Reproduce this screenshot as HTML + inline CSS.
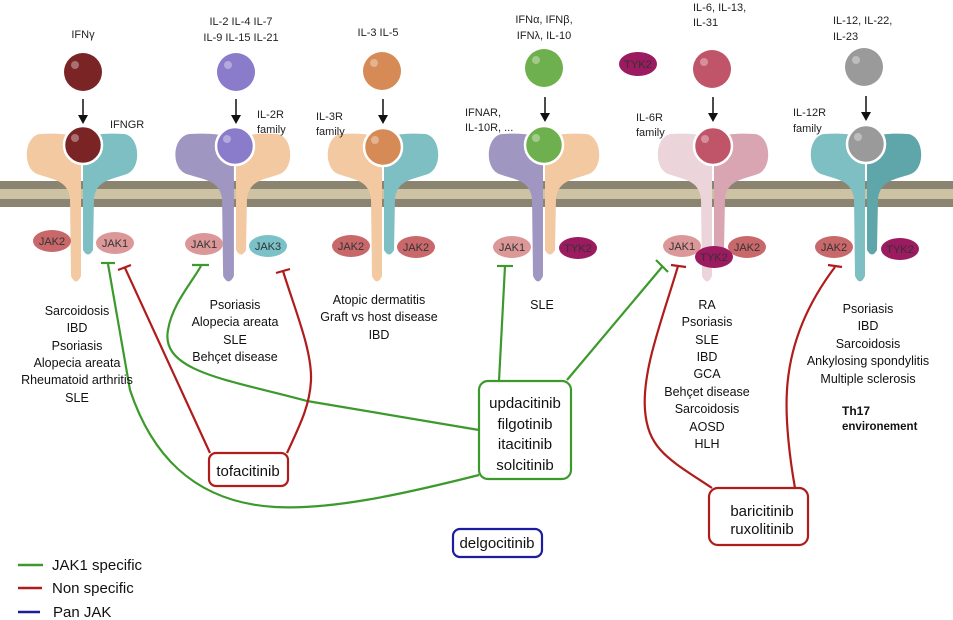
<!DOCTYPE html>
<html><head><meta charset="utf-8"><style>
html,body{margin:0;padding:0;background:#fff;}
svg{display:block;font-family:"Liberation Sans",Arial,sans-serif;}
</style></head><body>
<svg width="953" height="620" viewBox="0 0 953 620" xmlns="http://www.w3.org/2000/svg">
<defs>
<g id="L"><path d="M-1,140 C-8,134 -25,133 -42,134 C-58,136 -60,168 -45,174 C-28,180 -15,180 -12,198 L-11,276 Q-6,287 -1,276 Z"/></g>
<g id="R"><path d="M1,140 C8,134 25,133 42,134 C58,136 60,168 45,174 C28,180 15,180 12,198 L11,250 Q6,259 1,250 Z"/></g>
</defs>
<rect x="0" y="181" width="953" height="26" fill="#8b8470"/>
<rect x="0" y="189" width="953" height="10" fill="#cdc2a3"/>

<g transform="translate(82,0)"><use href="#L" fill="#f2c9a0"/><use href="#R" fill="#7dbfc3"/></g>
<g transform="translate(235,0)"><use href="#L" fill="#a096c2" transform="scale(1.08,1)"/><use href="#R" fill="#f2c9a0"/></g>
<g transform="translate(383,0)"><use href="#L" fill="#f2c9a0"/><use href="#R" fill="#7dbfc3"/></g>
<g transform="translate(544,0)"><use href="#L" fill="#a096c2"/><use href="#R" fill="#f2c9a0"/></g>
<g transform="translate(713,0)"><use href="#L" fill="#ecd4db"/><use href="#R" fill="#d9a5b2"/></g>
<g transform="translate(866,0)"><use href="#L" fill="#7dbfc3"/><use href="#R" fill="#5fa6ab"/></g>

<g stroke="#fff" stroke-width="2.5">
<circle cx="83" cy="145" r="19" fill="#7a2426"/>
<circle cx="235" cy="146" r="19" fill="#8a7ccb"/>
<circle cx="383" cy="147" r="19" fill="#d68a55"/>
<circle cx="544" cy="145" r="19" fill="#6fb04e"/>
<circle cx="713" cy="146" r="19" fill="#c05468"/>
<circle cx="866" cy="144" r="19" fill="#9a9a9a"/>
</g>
<circle cx="83" cy="72" r="19" fill="#7a2426"/>
<circle cx="236" cy="72" r="19" fill="#8a7ccb"/>
<circle cx="382" cy="71" r="19" fill="#d68a55"/>
<circle cx="544" cy="68" r="19" fill="#6fb04e"/>
<circle cx="712" cy="69" r="19" fill="#c05468"/>
<circle cx="864" cy="67" r="19" fill="#9a9a9a"/>
<g fill="#fff" opacity="0.35">
<circle cx="75" cy="65" r="4"/><circle cx="75" cy="138" r="4"/>
<circle cx="228" cy="65" r="4"/><circle cx="227" cy="139" r="4"/>
<circle cx="374" cy="63" r="4"/><circle cx="375" cy="140" r="4"/>
<circle cx="536" cy="60" r="4"/><circle cx="536" cy="138" r="4"/>
<circle cx="704" cy="62" r="4"/><circle cx="705" cy="139" r="4"/>
<circle cx="856" cy="60" r="4"/><circle cx="858" cy="137" r="4"/>
</g>
<g stroke="#111" stroke-width="1.5">
<line x1="83" y1="99" x2="83" y2="116"/><line x1="236" y1="99" x2="236" y2="116"/>
<line x1="383" y1="99" x2="383" y2="116"/><line x1="545" y1="97" x2="545" y2="114"/>
<line x1="713" y1="97" x2="713" y2="114"/><line x1="866" y1="96" x2="866" y2="113"/>
</g>
<g fill="#111">
<path d="M78,115 L88,115 L83,124 Z"/><path d="M231,115 L241,115 L236,124 Z"/>
<path d="M378,115 L388,115 L383,124 Z"/><path d="M540,113 L550,113 L545,122 Z"/>
<path d="M708,113 L718,113 L713,122 Z"/><path d="M861,112 L871,112 L866,121 Z"/>
</g>

<g font-size="11" text-anchor="middle" fill="#333">
<g><ellipse cx="52" cy="241" rx="19" ry="11" fill="#c8686b"/><text x="52" y="245">JAK2</text></g>
<g><ellipse cx="115" cy="243" rx="19" ry="11" fill="#dc9898"/><text x="115" y="247">JAK1</text></g>
<g><ellipse cx="204" cy="244" rx="19" ry="11" fill="#dc9898"/><text x="204" y="248">JAK1</text></g>
<g><ellipse cx="268" cy="246" rx="19" ry="11" fill="#7ac2c8"/><text x="268" y="250">JAK3</text></g>
<g><ellipse cx="351" cy="246" rx="19" ry="11" fill="#c8686b"/><text x="351" y="250">JAK2</text></g>
<g><ellipse cx="416" cy="247" rx="19" ry="11" fill="#c8686b"/><text x="416" y="251">JAK2</text></g>
<g><ellipse cx="512" cy="247" rx="19" ry="11" fill="#dc9898"/><text x="512" y="251">JAK1</text></g>
<g><ellipse cx="578" cy="248" rx="19" ry="11" fill="#9c1a5f"/><text x="578" y="252">TYK2</text></g>
<g><ellipse cx="682" cy="246" rx="19" ry="11" fill="#dc9898"/><text x="682" y="250">JAK1</text></g>
<g><ellipse cx="747" cy="247" rx="19" ry="11" fill="#c8686b"/><text x="747" y="251">JAK2</text></g>
<g><ellipse cx="714" cy="257" rx="19" ry="11" fill="#9c1a5f"/><text x="714" y="261">TYK2</text></g>
<g><ellipse cx="834" cy="247" rx="19" ry="11" fill="#c8686b"/><text x="834" y="251">JAK2</text></g>
<g><ellipse cx="900" cy="249" rx="19" ry="11" fill="#9c1a5f"/><text x="900" y="253">TYK2</text></g>
<g><ellipse cx="638" cy="64" rx="19" ry="12" fill="#9c1a5f"/><text x="638" y="68">TYK2</text></g>
</g>

<g font-size="11" fill="#222">
<text x="83" y="38" text-anchor="middle">IFNγ</text>
<text x="241" y="25" text-anchor="middle">IL-2 IL-4 IL-7</text>
<text x="241" y="41" text-anchor="middle">IL-9 IL-15 IL-21</text>
<text x="378" y="36" text-anchor="middle">IL-3 IL-5</text>
<text x="544" y="23" text-anchor="middle">IFNα, IFNβ,</text>
<text x="544" y="39" text-anchor="middle">IFNλ, IL-10</text>
<text x="693" y="11">IL-6, IL-13,</text>
<text x="693" y="26">IL-31</text>
<text x="833" y="24">IL-12, IL-22,</text>
<text x="833" y="40">IL-23</text>
<text x="110" y="128">IFNGR</text>
<text x="257" y="118">IL-2R</text><text x="257" y="133">family</text>
<text x="316" y="120">IL-3R</text><text x="316" y="135">family</text>
<text x="465" y="116">IFNAR,</text><text x="465" y="131">IL-10R, ...</text>
<text x="636" y="121">IL-6R</text><text x="636" y="136">family</text>
<text x="793" y="116">IL-12R</text><text x="793" y="132">family</text>
</g>

<g fill="none" stroke-width="2.2">
<g stroke="#3b9a2b">
<path d="M479,430 L307,401 C230,380 160,372 168,330 C172,305 190,285 201,266"/>
<line x1="192" y1="265" x2="209" y2="265"/>
<path d="M479,475 C400,495 330,510 275,507 C190,502 150,450 130,390 L108,264"/>
<line x1="101" y1="263" x2="115" y2="263"/>
<path d="M499,381 L505,266"/>
<line x1="497" y1="266" x2="513" y2="266"/>
<path d="M567,380 L662,267"/>
<line x1="656" y1="260" x2="668" y2="272"/>
</g>
<g stroke="#b01c1c">
<path d="M210,453 L125,268"/>
<line x1="118" y1="270" x2="131" y2="265"/>
<path d="M287,453 C300,425 310,405 311,380 C312,350 295,310 283,271"/>
<line x1="276" y1="273" x2="290" y2="269"/>
<path d="M712,488 C670,460 648,450 645,410 C642,370 662,320 678,266"/>
<line x1="671" y1="265" x2="686" y2="267"/>
<path d="M795,488 C790,460 785,420 787,390 C790,340 810,300 835,267"/>
<line x1="828" y1="265" x2="842" y2="267"/>
</g>
<line x1="18" y1="565" x2="43" y2="565" stroke="#3b9a2b" stroke-width="2.5"/>
<line x1="18" y1="588" x2="42" y2="588" stroke="#b01c1c" stroke-width="2.5"/>
<line x1="18" y1="612" x2="40" y2="612" stroke="#1c1ca0" stroke-width="2.5"/>
</g>

<rect x="479" y="381" width="92" height="98" rx="9" fill="#fff" stroke="#3b9a2b" stroke-width="2.2"/>
<rect x="209" y="453" width="79" height="33" rx="7" fill="#fff" stroke="#b01c1c" stroke-width="2.2"/>
<rect x="709" y="488" width="99" height="57" rx="9" fill="#fff" stroke="#b01c1c" stroke-width="2.2"/>
<rect x="453" y="529" width="89" height="28" rx="7" fill="#fff" stroke="#1c1ca0" stroke-width="2.2"/>
<g font-size="15" fill="#111" text-anchor="middle">
<text x="525" y="408">updacitinib</text>
<text x="525" y="429">filgotinib</text>
<text x="525" y="449">itacitinib</text>
<text x="525" y="470">solcitinib</text>
<text x="248" y="476">tofacitinib</text>
<text x="762" y="516">baricitinib</text>
<text x="762" y="534">ruxolitinib</text>
<text x="497" y="548">delgocitinib</text>
</g>

<g font-size="12.5" fill="#111" text-anchor="middle">
<text x="77" y="315">Sarcoidosis</text><text x="77" y="332">IBD</text><text x="77" y="350">Psoriasis</text>
<text x="77" y="367">Alopecia areata</text><text x="77" y="384">Rheumatoid arthritis</text><text x="77" y="402">SLE</text>
<text x="235" y="309">Psoriasis</text><text x="235" y="326">Alopecia areata</text><text x="235" y="344">SLE</text><text x="235" y="361">Behçet disease</text>
<text x="379" y="304">Atopic dermatitis</text><text x="379" y="321">Graft vs host disease</text><text x="379" y="339">IBD</text>
<text x="542" y="309">SLE</text>
<text x="707" y="309">RA</text><text x="707" y="326">Psoriasis</text><text x="707" y="344">SLE</text>
<text x="707" y="361">IBD</text><text x="707" y="378">GCA</text><text x="707" y="396">Behçet disease</text>
<text x="707" y="413">Sarcoidosis</text><text x="707" y="431">AOSD</text><text x="707" y="448">HLH</text>
<text x="868" y="313">Psoriasis</text><text x="868" y="330">IBD</text><text x="868" y="348">Sarcoidosis</text>
<text x="868" y="365">Ankylosing spondylitis</text><text x="868" y="383">Multiple sclerosis</text>
</g>
<text x="842" y="415" font-size="12" font-weight="bold" fill="#111">Th17</text>
<text x="842" y="430" font-size="11.5" font-weight="bold" fill="#111">environement</text>

<g font-size="15" fill="#111">
<text x="52" y="570">JAK1 specific</text>
<text x="52" y="593">Non specific</text>
<text x="53" y="617">Pan JAK</text>
</g>
</svg>
</body></html>
